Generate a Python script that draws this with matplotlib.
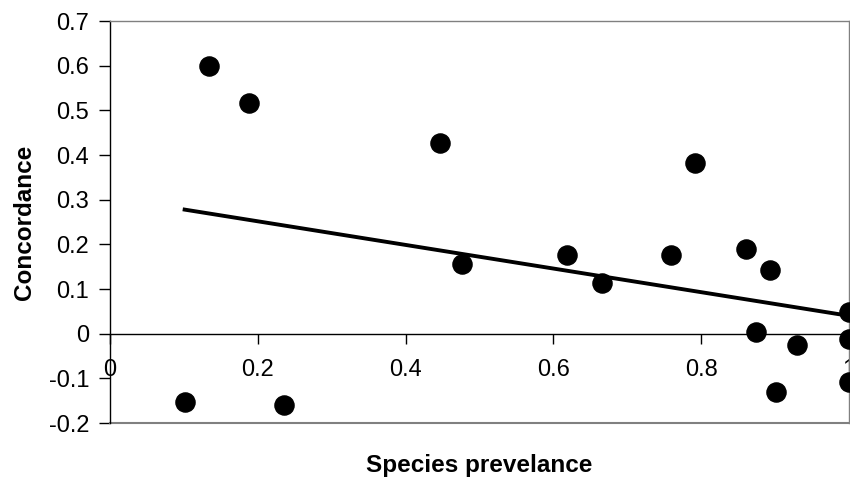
import numpy as np
import matplotlib
matplotlib.use("Agg")
import matplotlib.pyplot as plt

# values
prevalence = [0.101, 0.134, 0.188, 0.236, 0.446, 0.476, 0.618, 0.666, 0.759,
              0.791, 0.861, 0.874, 0.893, 0.901, 0.930, 1.0, 1.0, 1.0]
concordance = [-0.153, 0.599, 0.516, -0.160, 0.427, 0.156, 0.176, 0.113, 0.176,
               0.382, 0.190, 0.004, 0.142, -0.131, -0.025, 0.048, -0.012, -0.108]
x_ticks = [0, 0.2, 0.4, 0.6, 0.8, 1]
x_labels = ["0", "0.2", "0.4", "0.6", "0.8", "1"]
y_ticks = [-0.2, -0.1, 0, 0.1, 0.2, 0.3, 0.4, 0.5, 0.6, 0.7]
y_labels = ["-0.2", "-0.1", "0", "0.1", "0.2", "0.3", "0.4", "0.5", "0.6", "0.7"]

plt.rcParams['font.family'] = ['Liberation Sans', 'DejaVu Sans']

fig = plt.figure(figsize=(8.5, 4.82), dpi=100)
ax = fig.add_axes([110 / 850, 1 - 423 / 482, 739 / 850, 402 / 482])

ax.scatter(prevalence, concordance, s=190, color='black', zorder=3, clip_on=False)

# linear trend line
slope, intercept = np.polyfit(prevalence, concordance, 1)
xs = np.array([min(prevalence), max(prevalence)])
ax.plot(xs, slope * xs + intercept, color='black', lw=2.8, zorder=2)

ax.set_xlim(0, 1)
ax.set_ylim(-0.2, 0.7)
ax.set_xticks(x_ticks)
ax.set_xticklabels(x_labels)
ax.set_yticks(y_ticks)
ax.set_yticklabels(y_labels)

ax.spines['bottom'].set_position(('data', 0))
ax.spines['bottom'].set_color('black')
ax.spines['left'].set_color('black')
ax.spines['top'].set_color('#808080')
ax.spines['right'].set_color('#808080')
for s in ax.spines.values():
    s.set_linewidth(1.0)
# gray plot-area border at the bottom
ax.plot([0, 1], [0, 0], transform=ax.transAxes, color='#808080', lw=1.5, clip_on=False)

ax.tick_params(axis='y', direction='out', length=8, width=1, pad=7, labelsize=17)
ax.tick_params(axis='x', direction='out', length=7, width=1, pad=11, labelsize=17)

ax.set_xlabel('Species prevelance', fontsize=17.5, fontweight='bold')
ax.set_ylabel('Concordance', fontsize=17.5, fontweight='bold')
ax.xaxis.set_label_coords(0.5, -0.105)
ax.xaxis.label.set_verticalalignment('center')
ax.yaxis.set_label_coords(-0.116, 0.5)
ax.yaxis.label.set_verticalalignment('center')

plt.savefig('out.png', dpi=100)
